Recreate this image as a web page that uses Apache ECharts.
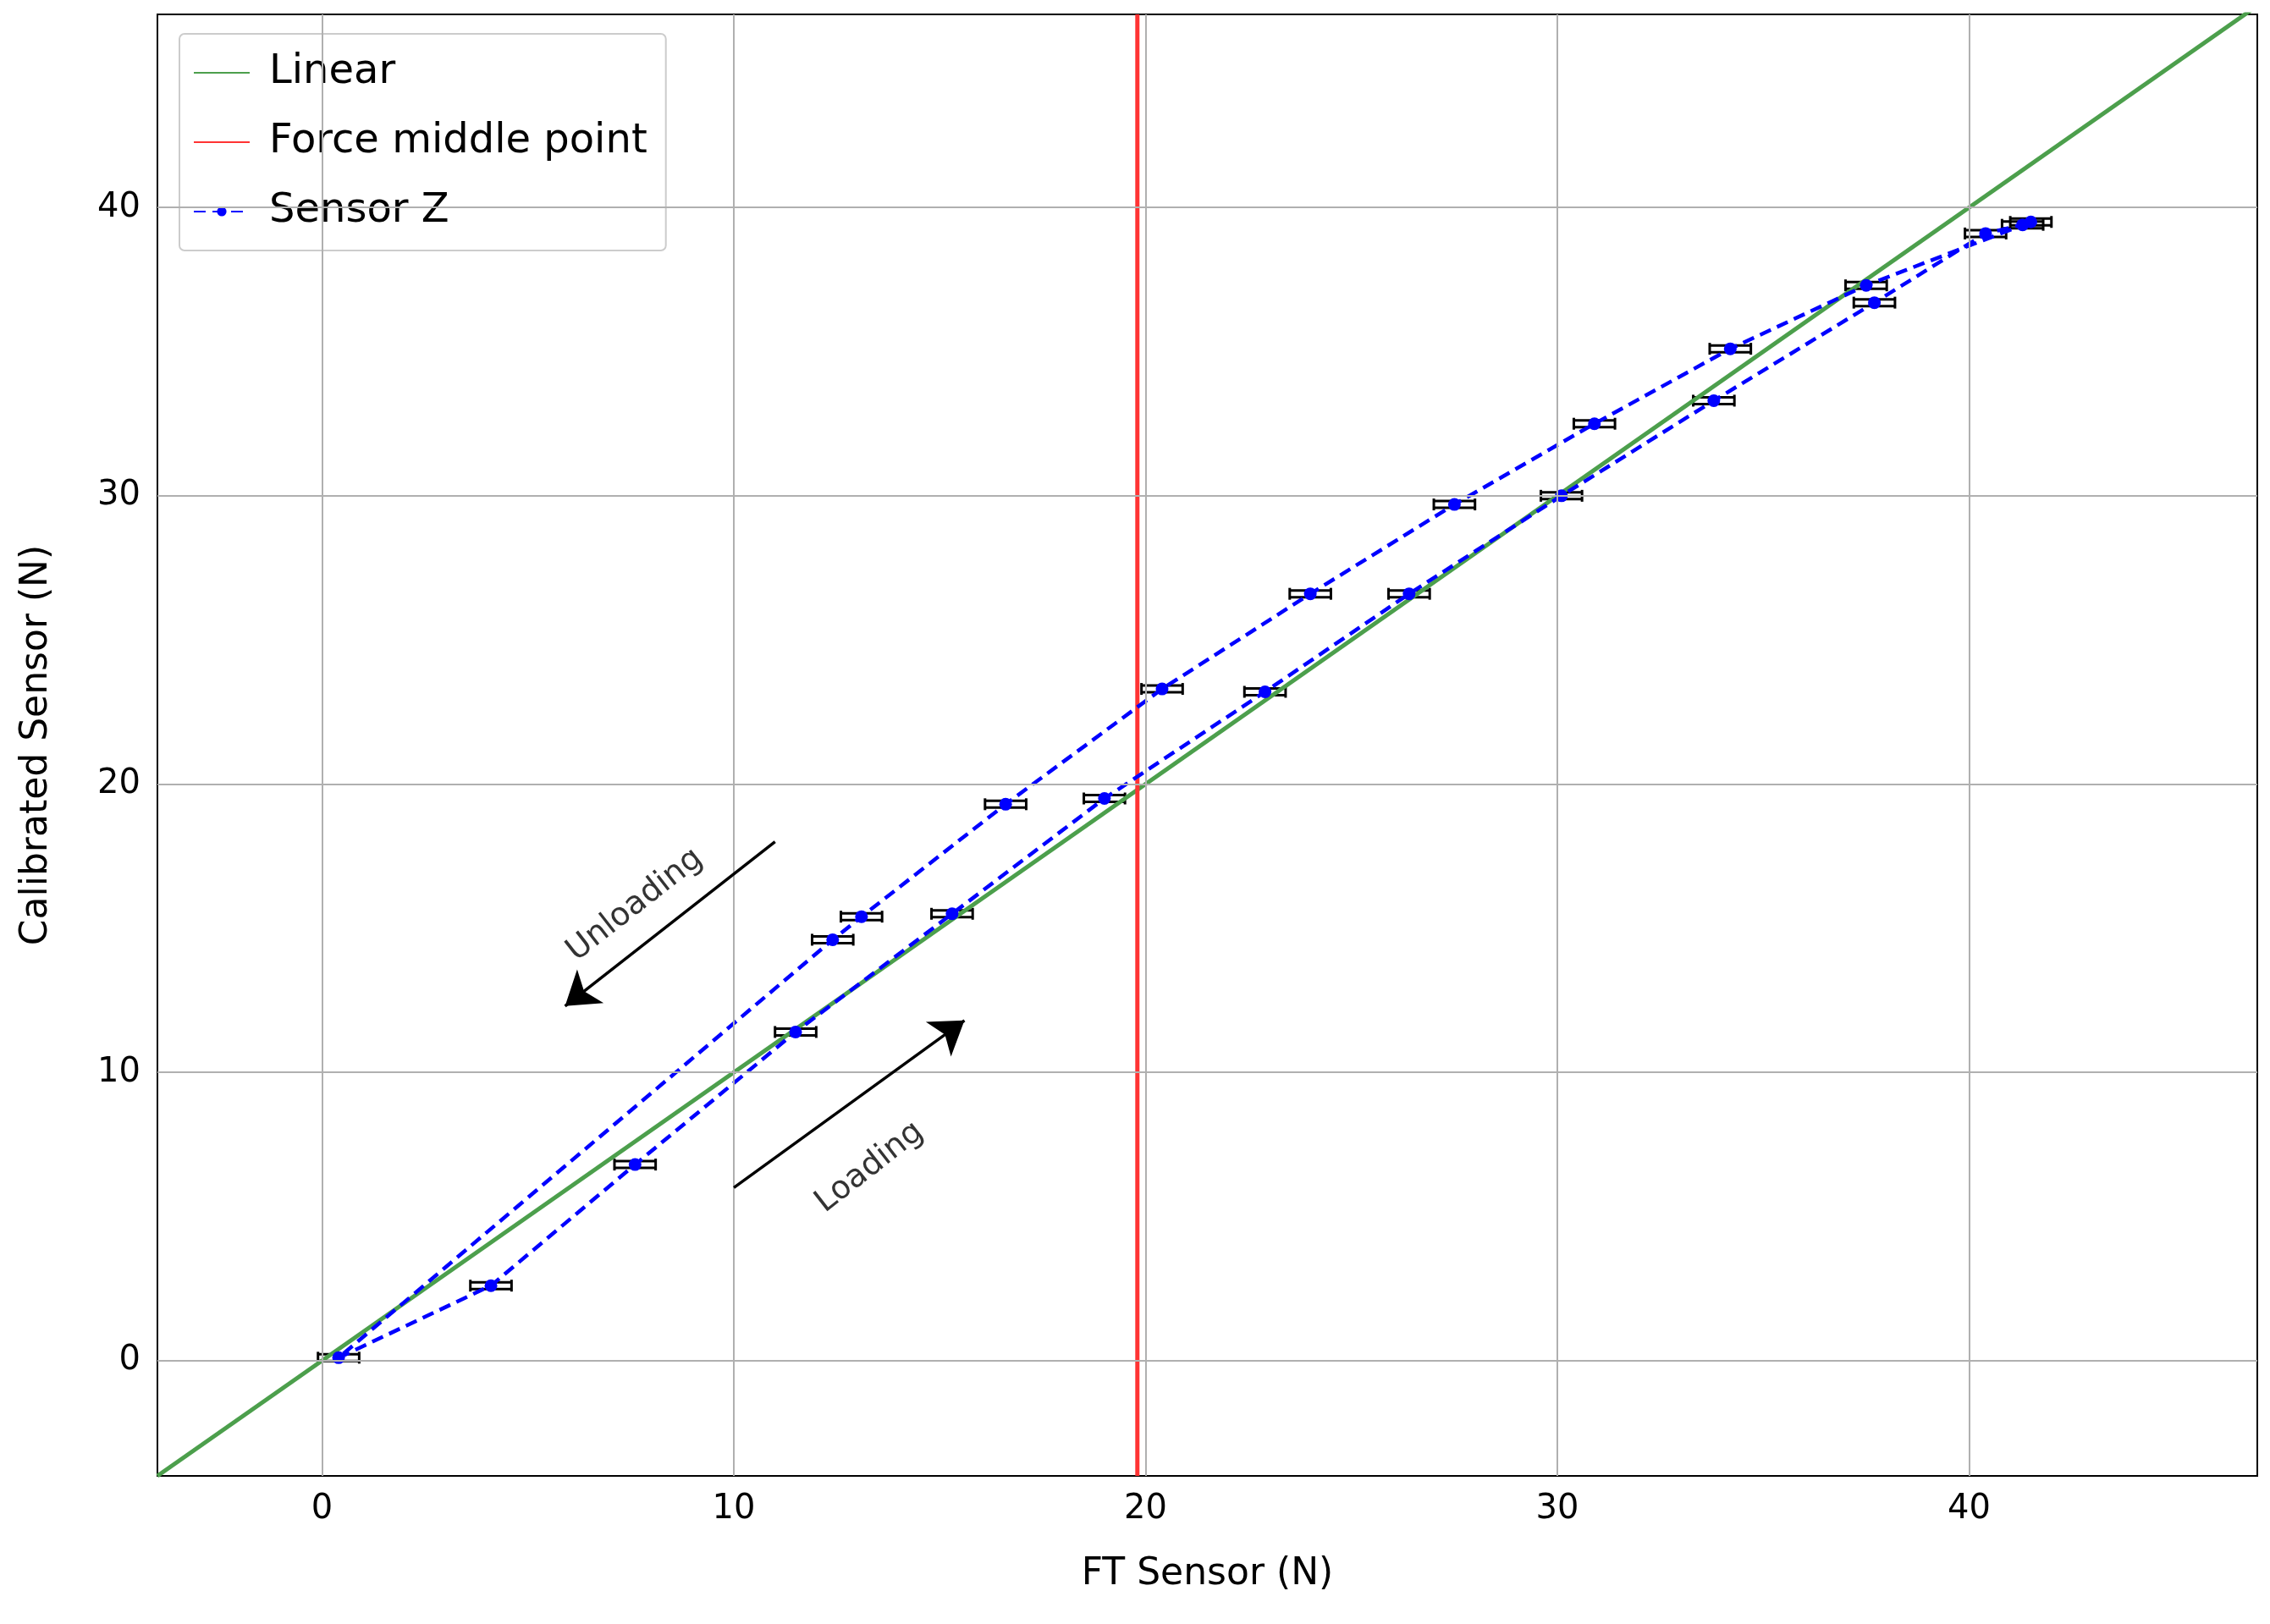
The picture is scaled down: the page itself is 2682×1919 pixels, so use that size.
<!DOCTYPE html>
<html><head><meta charset="utf-8">
<script src="https://cdn.jsdelivr.net/npm/echarts@6/dist/echarts.min.js"></script>
<style>html,body{margin:0;background:#fff}#c{width:2682px;height:1919px}</style>
</head><body><div id="c"></div>
<script>
// loading branch (lower) then unloading branch (upper)
const loadX = [0.4, 4.1, 7.6, 11.5, 15.3, 19.0, 22.9, 26.4, 30.1, 33.8, 37.7, 40.4, 41.3];
const loadY = [0.1, 2.6, 6.8, 11.4, 15.5, 19.5, 23.2, 26.6, 30.0, 33.3, 36.7, 39.1, 39.4];
const unloadX = [41.5, 37.5, 34.2, 30.9, 27.5, 24.0, 20.4, 16.6, 13.1, 12.4, 0.4];
const unloadY = [39.5, 37.3, 35.1, 32.5, 29.7, 26.6, 23.3, 19.3, 15.4, 14.6, 0.1];
const unloadMarker = [1, 1, 1, 1, 1, 1, 1, 1, 1, 1, 0];
const xErr = 0.5;
const middleForce = 19.8;
const ticks = [0, 10, 20, 30, 40];

const sensorData = loadX.map((x, i) => [x, loadY[i]])
  .concat(unloadX.map((x, i) => [x, unloadY[i]]));
const markerFlags = loadX.map(() => 1).concat(unloadMarker);
const errData = sensorData.filter((d, i) => markerFlags[i]);

const chart = echarts.init(document.getElementById('c'));
const gridLines = ticks.map(v => ({ xAxis: v })).concat(ticks.map(v => ({ yAxis: v })));

chart.setOption({
  animation: false,
  textStyle: { fontFamily: 'DejaVu Sans' },
  grid: { left: 186, right: 15, top: 17, bottom: 175, show: true, borderColor: '#000', borderWidth: 2 },
  legend: {
    orient: 'vertical', left: 212, top: 40, itemWidth: 66, itemHeight: 14, itemGap: 34,
    padding: [22, 22, 22, 16], borderColor: '#ccc', borderWidth: 2, borderRadius: 6, backgroundColor: 'rgba(255,255,255,0.85)',
    textStyle: { fontSize: 48, color: '#000', padding: [0, 0, 0, 18] },
    data: [
      { name: 'Linear', itemStyle: { opacity: 0 } },
      { name: 'Force middle point', itemStyle: { opacity: 0 } },
      'Sensor Z'
    ]
  },
  xAxis: {
    type: 'value', min: -4, max: 47, name: 'FT Sensor (N)', nameLocation: 'middle', nameGap: 95,
    nameTextStyle: { fontSize: 44, color: '#000' },
    axisLine: { show: false }, splitLine: { show: false },
    axisTick: { show: true, customValues: ticks, length: 10, lineStyle: { color: '#000', width: 2 } },
    axisLabel: { customValues: ticks, fontSize: 40, color: '#000', margin: 20 }
  },
  yAxis: {
    type: 'value', min: -4, max: 46.7, name: 'Calibrated Sensor (N)', nameLocation: 'middle', nameGap: 120,
    nameTextStyle: { fontSize: 44, color: '#000' },
    axisLine: { show: false }, splitLine: { show: false },
    axisTick: { show: true, customValues: ticks, length: 10, lineStyle: { color: '#000', width: 2 } },
    axisLabel: { customValues: ticks, fontSize: 40, color: '#000', margin: 20 }
  },
  series: [
    {
      name: 'grid', type: 'line', data: [], silent: true,
      markLine: { symbol: 'none', silent: true, label: { show: false },
        lineStyle: { color: '#b0b0b0', width: 2, type: 'solid' }, data: gridLines }
    },
    {
      name: 'Linear', type: 'line', data: [[-4, -4], [47, 47]], symbol: 'none',
      lineStyle: { color: '#4c9f4c', width: 5 }, itemStyle: { color: '#4c9f4c' }
    },
    {
      name: 'Force middle point', type: 'line', data: [[middleForce, -4], [middleForce, 46.7]], symbol: 'none',
      lineStyle: { color: '#ff3333', width: 5 }, itemStyle: { color: '#ff3333' }
    },
    {
      name: 'errbars', type: 'custom', data: errData, z: 3,
      renderItem: (params, api) => {
        const a = api.coord([api.value(0) - xErr, api.value(1)]);
        const b = api.coord([api.value(0) + xErr, api.value(1)]);
        const s = { stroke: '#000', lineWidth: 3 };
        return { type: 'group', children: [
          { type: 'line', shape: { x1: a[0], y1: a[1] - 4, x2: b[0], y2: b[1] - 4 }, style: s },
          { type: 'line', shape: { x1: a[0], y1: a[1] + 4, x2: b[0], y2: b[1] + 4 }, style: s },
          { type: 'line', shape: { x1: a[0], y1: a[1] - 7, x2: a[0], y2: a[1] + 7 }, style: s },
          { type: 'line', shape: { x1: b[0], y1: b[1] - 7, x2: b[0], y2: b[1] + 7 }, style: s }
        ] };
      }
    },
    {
      name: 'Sensor Z', type: 'line', data: sensorData, z: 4,
      symbol: 'circle', symbolSize: (v, p) => markerFlags[p.dataIndex] ? 15 : 0,
      lineStyle: { color: '#0000ff', width: 4.5, type: [14, 8] }, itemStyle: { color: '#0000ff' },
      markLine: {
        symbol: ['none', 'arrow'], symbolSize: 38, silent: true, label: { show: false },
        lineStyle: { color: '#000', width: 3.5, type: 'solid' },
        data: [
          [{ coord: [11, 18] }, { coord: [5.9, 12.3] }],
          [{ coord: [10, 6] }, { coord: [15.6, 11.8] }]
        ]
      }
    },
    {
      name: 'notes', type: 'scatter', symbolSize: 0, silent: true,
      data: [
        { value: [7.6, 15.8], label: { formatter: 'Unloading' } },
        { value: [13.3, 6.7], label: { formatter: 'Loading' } }
      ],
      label: { show: true, position: 'inside', rotate: 38, fontSize: 38, color: '#000' }
    }
  ]
});
</script></body></html>
